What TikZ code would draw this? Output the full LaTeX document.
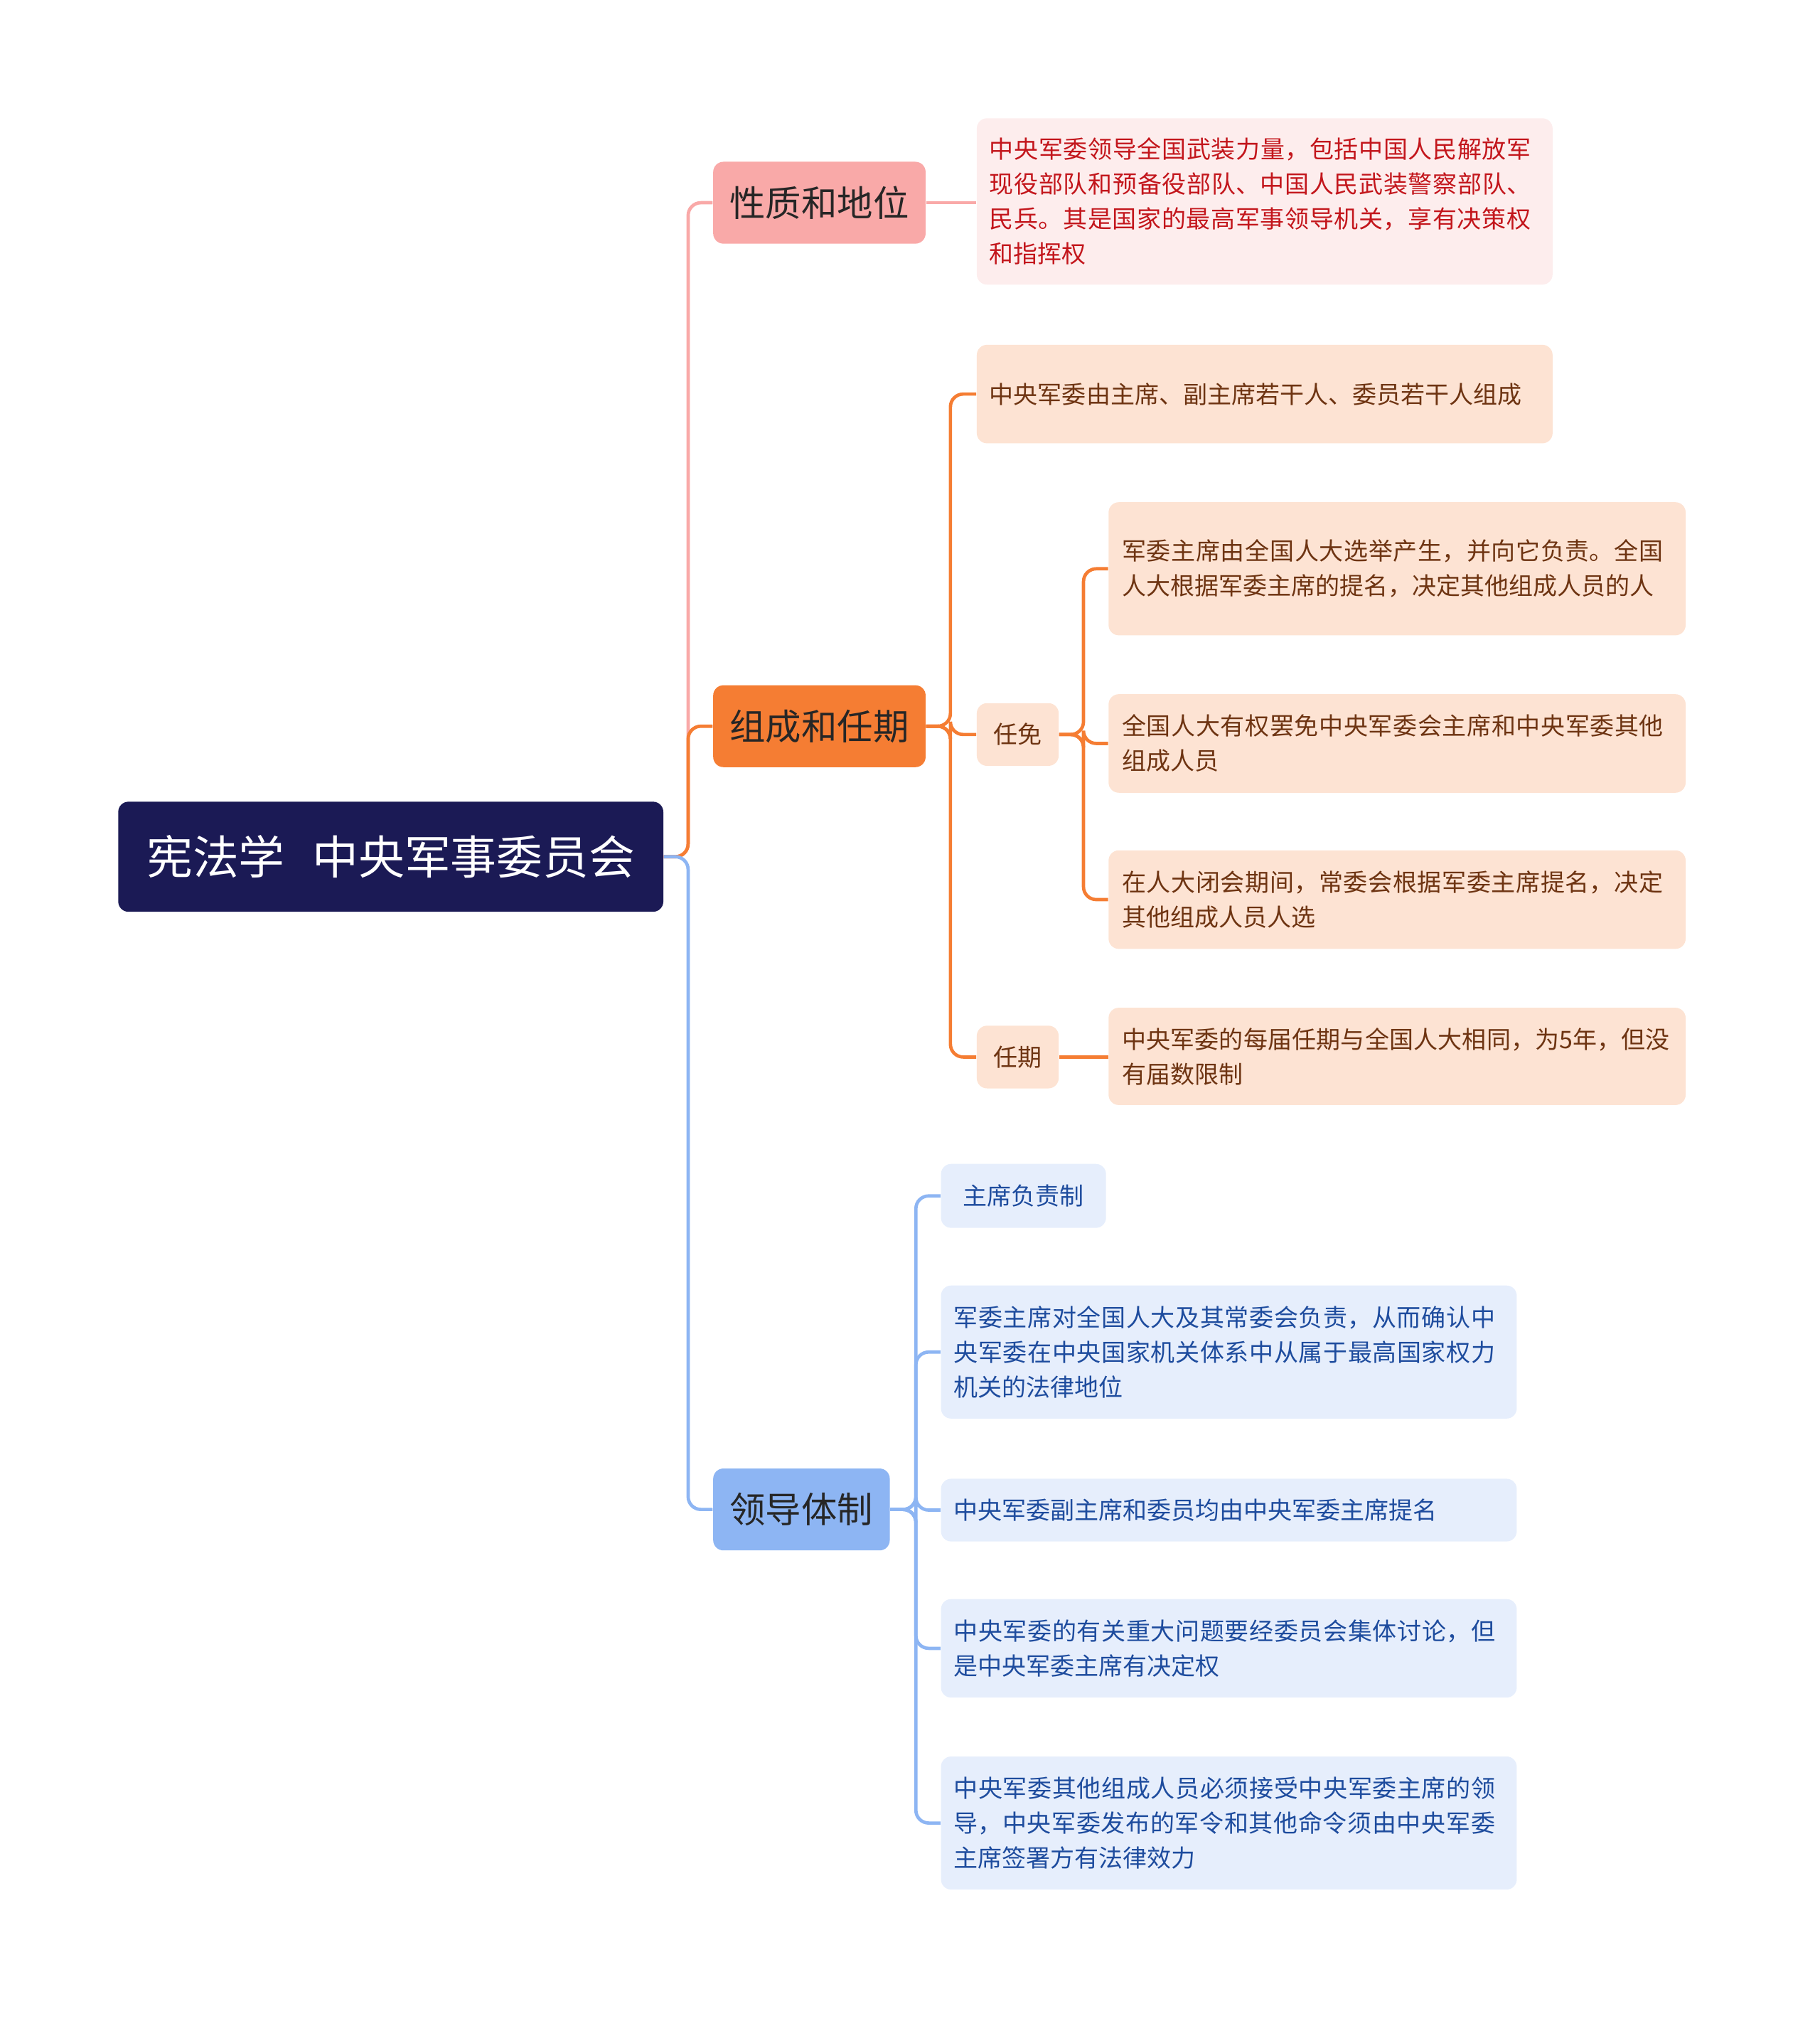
\documentclass[tikz,border=0pt]{standalone}
\usepackage{fontspec}
\setmainfont{Noto Sans CJK SC}
\XeTeXlinebreaklocale "zh"
\XeTeXlinebreakskip=0pt plus 1pt
\begin{document}
\begin{tikzpicture}[x=0.5pt,y=-0.5pt,
 box/.style={rounded corners=4pt,inner sep=0pt,align=left,anchor=north west},
 pinkleaf/.style={box,fill=pinkL,text=pinkT,font=\fontsize{9.45}{13.6}\selectfont},
 orleaf/.style={box,fill=orL,text=orT,font=\fontsize{9.45}{13.6}\selectfont},
 blleaf/.style={box,fill=blL,text=blT,font=\fontsize{9.45}{13.6}\selectfont},
 br/.style={box,font=\fontsize{14}{16}\selectfont,text=black!85},
 ln/.style={line width=1.3pt,rounded corners=5pt}]
\definecolor{pinkB}{HTML}{F9A9A8}\definecolor{pinkL}{HTML}{FDEDED}\definecolor{pinkT}{HTML}{C3161C}
\definecolor{orB}{HTML}{F57D33}\definecolor{orL}{HTML}{FDE3D3}\definecolor{orT}{HTML}{6E3412}
\definecolor{blB}{HTML}{8DB5F3}\definecolor{blL}{HTML}{E6EEFC}\definecolor{blT}{HTML}{1E4C9E}
\definecolor{navy}{HTML}{1B1A55}
\useasboundingbox (0,0) rectangle (1422,1583);
% root
\node[box,fill=navy,text=white,font=\fontsize{18}{20}\selectfont,minimum width=213pt,minimum height=43pt,align=center] (root) at (92,626) {宪法学\hspace{0.6em}中央军事委员会};
% branches
\node[br,fill=pinkB,minimum width=83pt,minimum height=32pt,align=center] (b1) at (557,126) {性质和地位};
\node[br,fill=orB,minimum width=83pt,minimum height=32pt,align=center] (b2) at (557,535) {组成和任期};
\node[br,fill=blB,minimum width=69pt,minimum height=32pt,align=center] (b3) at (557,1147) {领导体制};
% leaves
\node[pinkleaf,minimum width=225pt,minimum height=65pt,text width=215pt] (l1) at (763,92) {中央军委领导全国武装力量，包括中国人民解放军现役部队和预备役部队、中国人民武装警察部队、民兵。其是国家的最高军事领导机关，享有决策权和指挥权};
\node[orleaf,minimum width=225pt,minimum height=38.5pt,text width=215pt] (o1) at (763,269) {中央军委由主席、副主席若干人、委员若干人组成};
\node[orleaf,minimum width=32pt,minimum height=24.5pt,align=center] (rm) at (763,549) {任免};
\node[orleaf,minimum width=32pt,minimum height=24.5pt,align=center] (rq) at (763,801) {任期};
\node[orleaf,minimum width=225.5pt,minimum height=52pt,text width=215pt] (o2) at (866,392) {军委主席由全国人大选举产生，并向它负责。全国人大根据军委主席的提名，决定其他组成人员的人};
\node[orleaf,minimum width=225.5pt,minimum height=38.5pt,text width=215pt] (o3) at (866,542) {全国人大有权罢免中央军委会主席和中央军委其他组成人员};
\node[orleaf,minimum width=225.5pt,minimum height=38.5pt,text width=215pt] (o4) at (866,664) {在人大闭会期间，常委会根据军委主席提名，决定其他组成人员人选};
\node[orleaf,minimum width=225.5pt,minimum height=38pt,text width=215pt] (o5) at (866,787) {中央军委的每届任期与全国人大相同，为5年，但没有届数限制};
\node[blleaf,minimum width=64.5pt,minimum height=25pt,align=center] (c1) at (735,909) {主席负责制};
\node[blleaf,minimum width=225pt,minimum height=52pt,text width=215pt] (c2) at (735,1004) {军委主席对全国人大及其常委会负责，从而确认中央军委在中央国家机关体系中从属于最高国家权力机关的法律地位};
\node[blleaf,minimum width=225pt,minimum height=24.5pt,text width=215pt] (c3) at (735,1155) {中央军委副主席和委员均由中央军委主席提名};
\node[blleaf,minimum width=225pt,minimum height=38.5pt,text width=215pt] (c4) at (735,1249) {中央军委的有关重大问题要经委员会集体讨论，但是中央军委主席有决定权};
\node[blleaf,minimum width=225pt,minimum height=52pt,text width=215pt] (c5) at (735,1372) {中央军委其他组成人员必须接受中央军委主席的领导，中央军委发布的军令和其他命令须由中央军委主席签署方有法律效力};
% connectors
\draw[ln,pinkB] (root.east) -- ++(19,0) |- (b1.west);
\draw[ln,orB] (root.east) -- ++(19,0) |- (b2.west);
\draw[ln,blB] (root.east) -- ++(19,0) |- (b3.west);
\draw[ln,pinkB] (b1.east) -- (l1.west|-b1.east);
\foreach \t in {o1,rm,rq} \draw[ln,orB] (b2.east) -- ++(19,0) |- (\t.west);
\foreach \t in {o2,o3,o4} \draw[ln,orB] (rm.east) -- ++(19,0) |- (\t.west);
\draw[ln,orB] (rq.east) -- (o5.west|-rq.east);
\foreach \t in {c1,c2,c3,c4,c5} \draw[ln,blB] (b3.east) -- ++(20,0) |- (\t.west);
\end{tikzpicture}
\end{document}
